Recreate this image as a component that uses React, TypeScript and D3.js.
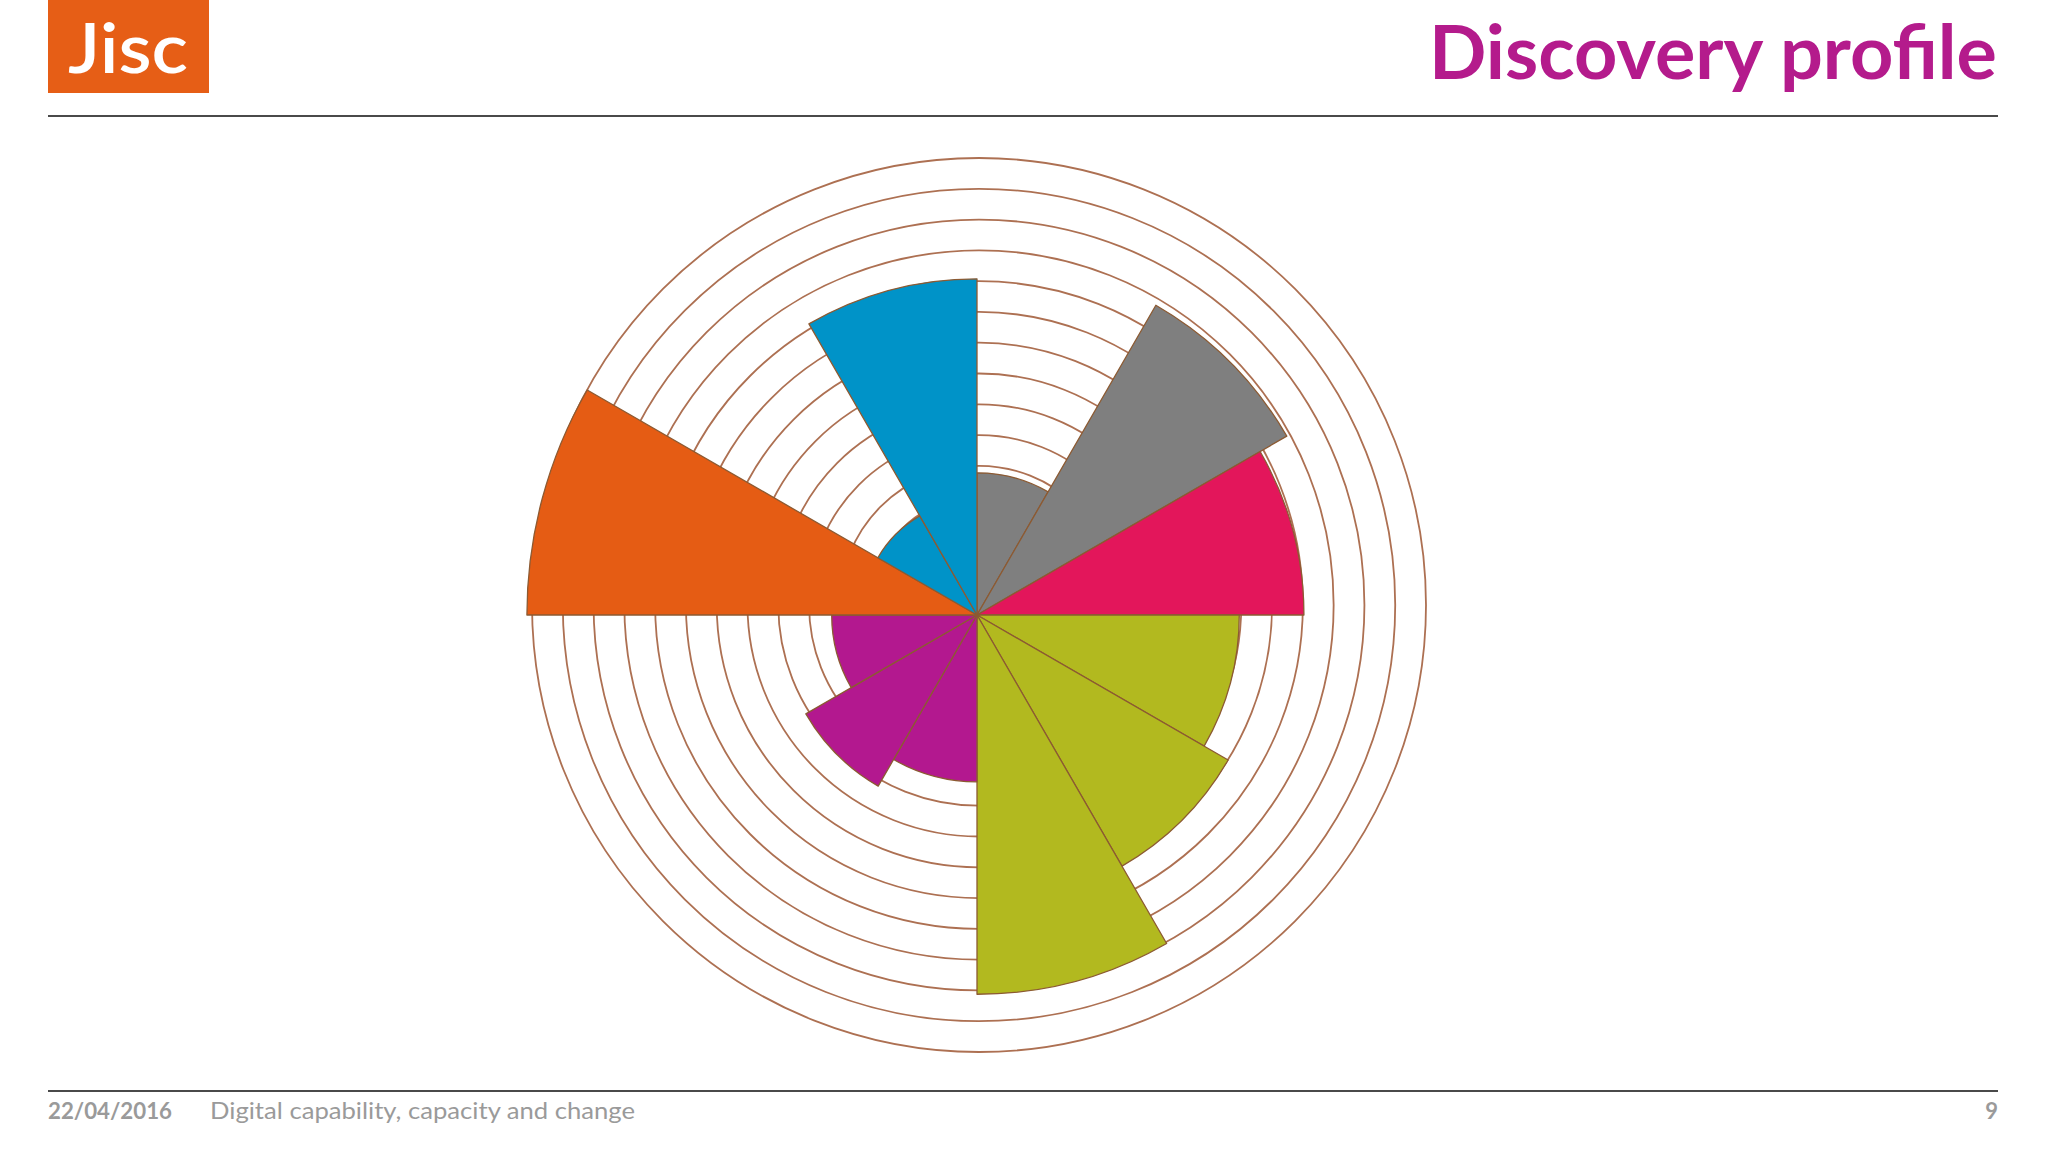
import React from 'react';
import * as d3 from 'd3';

// Segments go clockwise from 12 o'clock, 30 degrees each
const segmentNames = ['S1', 'S2', 'S3', 'S4', 'S5', 'S6', 'S7', 'S8', 'S9', 'S10', 'S11', 'S12'];
const segmentValues = [5.1, 12.1, 11.1, 9.0, 9.9, 12.8, 5.9, 6.9, 5.2, 15.1, 4.2, 11.4];
const segmentColors = [
  '#7f7f7f', '#7f7f7f', '#e3165b',
  '#b2b91f', '#b2b91f', '#b2b91f',
  '#b3188f', '#b3188f', '#b3188f',
  '#e55c14', '#0093c8', '#0093c8',
];
const ringLevels = [1, 2, 3, 4, 5, 6, 7, 8, 9, 10, 11, 12, 13, 14, 15];

const W = 2048;
const H = 1152;

const App = () => {
  const angle = d3.scaleBand<string>()
    .domain(segmentNames)
    .range([0, 2 * Math.PI]);

  const radius = d3.scaleLinear()
    .domain([1, 15])
    .range([16, 447]);

  const arc = d3.arc<any>()
    .innerRadius(0)
    .outerRadius((d: any) => radius(d.value))
    .startAngle((d: any) => angle(d.name) as number)
    .endAngle((d: any) => (angle(d.name) as number) + angle.bandwidth());

  const wedges = segmentNames.map((name, i) => ({
    name,
    value: segmentValues[i],
    color: segmentColors[i],
  }));

  return (
    <svg
      width={W}
      height={H}
      style={{ position: 'absolute', left: 0, top: 0, background: '#fff' }}
    >
      {/* header */}
      <rect x={48} y={0} width={161} height={93} fill="#e65e16" />
      <text
        x={128}
        y={73}
        textAnchor="middle"
        fill="#fff"
        fontFamily="Lato, 'Open Sans', sans-serif"
        fontWeight={600}
        fontSize={70}
        textLength={120}
        lengthAdjust="spacingAndGlyphs"
      >
        Jisc
      </text>
      <text
        x={1997}
        y={79}
        textAnchor="end"
        fill="#b41b8c"
        fontFamily="Lato, 'Open Sans', sans-serif"
        fontWeight={700}
        fontSize={74}
        textLength={568}
        lengthAdjust="spacingAndGlyphs"
      >
        Discovery profile
      </text>
      <line x1={48} x2={1998} y1={116} y2={116} stroke="#4a4a4a" strokeWidth={2} />

      {/* rings */}
      <g transform="translate(979,605)">
        {ringLevels.map(l => (
          <circle key={l} r={radius(l)} fill="none" stroke="#ad7052" strokeWidth={1.8} />
        ))}
      </g>

      {/* wedges */}
      <g transform="translate(977,615)">
        {wedges.map(d => (
          <path
            key={d.name}
            d={arc(d) as string}
            fill={d.color}
            stroke="#8c5a32"
            strokeWidth={1.3}
            strokeLinejoin="round"
          />
        ))}
      </g>

      {/* footer */}
      <line x1={48} x2={1998} y1={1091} y2={1091} stroke="#4a4a4a" strokeWidth={2} />
      <text
        x={48}
        y={1119}
        fill="#9a9a9a"
        fontFamily="Lato, 'Open Sans', sans-serif"
        fontWeight={700}
        fontSize={22}
        textLength={124}
        lengthAdjust="spacingAndGlyphs"
      >
        22/04/2016
      </text>
      <text
        x={210}
        y={1119}
        fill="#9a9a9a"
        fontFamily="Lato, 'Open Sans', sans-serif"
        fontSize={23}
        textLength={425}
        lengthAdjust="spacingAndGlyphs"
      >
        Digital capability, capacity and change
      </text>
      <text
        x={1998}
        y={1119}
        textAnchor="end"
        fill="#9a9a9a"
        fontFamily="Lato, 'Open Sans', sans-serif"
        fontWeight={700}
        fontSize={22}
      >
        9
      </text>
    </svg>
  );
};

export default App;
